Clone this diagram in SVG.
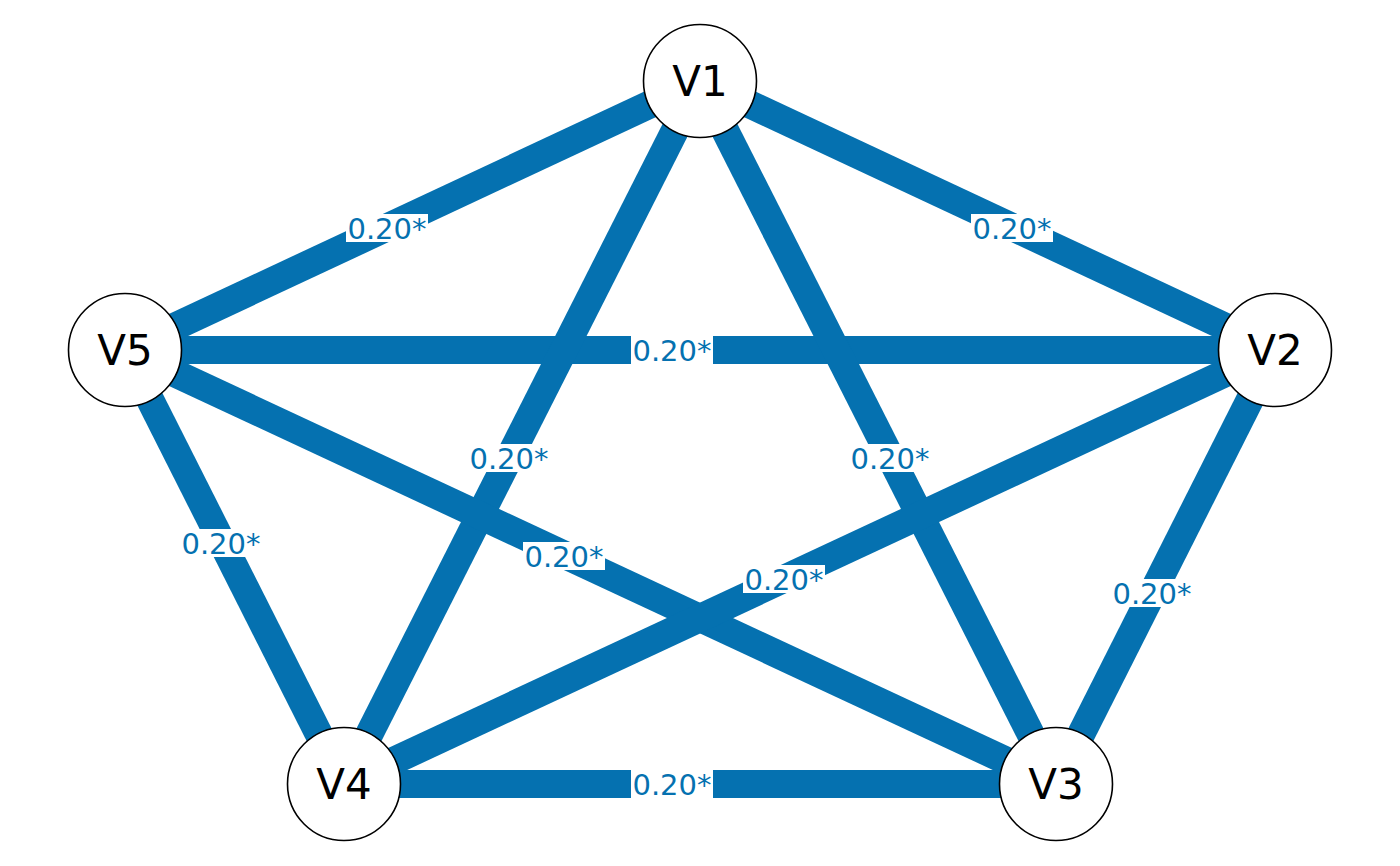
<svg xmlns="http://www.w3.org/2000/svg" width="1400" height="866" viewBox="0 0 1400 866">
<style>
.e{stroke:#0571b0;stroke-width:28;fill:none}
.lb{fill:#ffffff}
.lt{font-family:"DejaVu Sans",sans-serif;font-size:29px;fill:#0571b0;text-anchor:middle}
.n{fill:#ffffff;stroke:#000000;stroke-width:1.6}
.nt{font-family:"DejaVu Sans",sans-serif;font-size:42px;fill:#000000;text-anchor:middle}
</style>
<rect width="1400" height="866" fill="#ffffff"/>
<g id="edges">
<line class="e" x1="700" y1="81" x2="125" y2="350"/>
<line class="e" x1="700" y1="81" x2="1275" y2="350"/>
<line class="e" x1="125" y1="350" x2="1275" y2="350"/>
<line class="e" x1="700" y1="81" x2="344" y2="784"/>
<line class="e" x1="700" y1="81" x2="1056" y2="784"/>
<line class="e" x1="125" y1="350" x2="344" y2="784"/>
<line class="e" x1="125" y1="350" x2="1056" y2="784"/>
<line class="e" x1="1275" y1="350" x2="344" y2="784"/>
<line class="e" x1="1275" y1="350" x2="1056" y2="784"/>
<line class="e" x1="344" y1="784" x2="1056" y2="784"/>
</g>
<g id="edge-labels">
<rect class="lb" x="346" y="214" width="82" height="28"/><text class="lt" x="387" y="238.6">0.20*</text>
<rect class="lb" x="971" y="214" width="82" height="28"/><text class="lt" x="1012" y="238.6">0.20*</text>
<rect class="lb" x="631" y="336" width="82" height="28"/><text class="lt" x="672" y="360.6">0.20*</text>
<rect class="lb" x="468" y="444" width="82" height="28"/><text class="lt" x="509" y="468.6">0.20*</text>
<rect class="lb" x="849" y="444" width="82" height="28"/><text class="lt" x="890" y="468.6">0.20*</text>
<rect class="lb" x="180" y="529" width="82" height="28"/><text class="lt" x="221" y="553.6">0.20*</text>
<rect class="lb" x="523" y="542" width="82" height="28"/><text class="lt" x="564" y="566.6">0.20*</text>
<rect class="lb" x="743" y="565" width="82" height="28"/><text class="lt" x="784" y="589.6">0.20*</text>
<rect class="lb" x="1111" y="579" width="82" height="28"/><text class="lt" x="1152" y="603.6">0.20*</text>
<rect class="lb" x="631" y="770" width="82" height="28"/><text class="lt" x="672" y="794.6">0.20*</text>
</g>
<g id="V1"><circle class="n" cx="700" cy="81" r="56.5"/><text class="nt" x="700" y="96.3">V1</text></g>
<g id="V2"><circle class="n" cx="1275" cy="350" r="56.5"/><text class="nt" x="1275" y="365.3">V2</text></g>
<g id="V3"><circle class="n" cx="1056" cy="784" r="56.5"/><text class="nt" x="1056" y="799.3">V3</text></g>
<g id="V4"><circle class="n" cx="344" cy="784" r="56.5"/><text class="nt" x="344" y="799.3">V4</text></g>
<g id="V5"><circle class="n" cx="125" cy="350" r="56.5"/><text class="nt" x="125" y="365.3">V5</text></g>
</svg>
